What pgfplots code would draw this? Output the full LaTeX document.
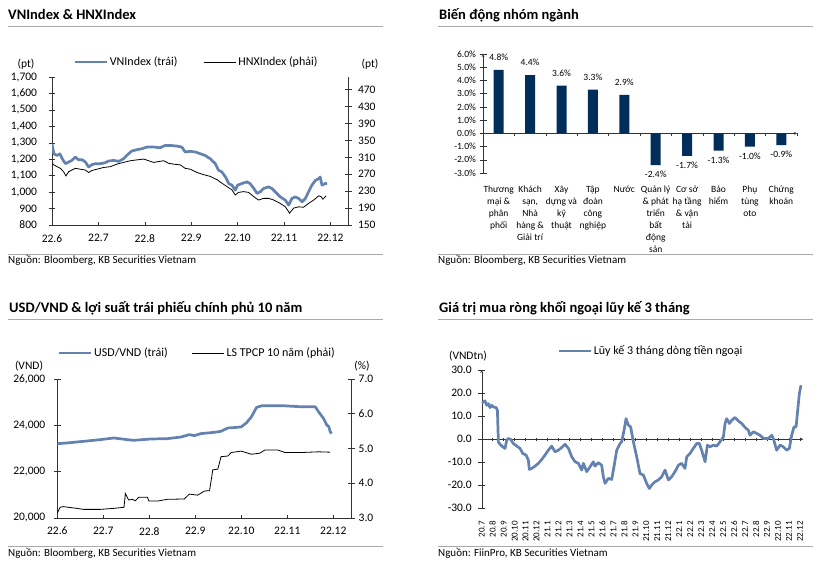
\documentclass[border=0pt]{standalone}
\usepackage{fontspec}
\setmainfont{Carlito}
\usepackage{pgfplots}
\pgfplotsset{compat=1.18}

\definecolor{lineblue}{RGB}{100,130,175}
\definecolor{barnavy}{RGB}{0,45,90}
\definecolor{rulegray}{RGB}{170,170,170}

\newcommand\tickf{\fontsize{11.5bp}{13bp}\selectfont}
\newcommand\legf{\fontsize{12bp}{14bp}\selectfont}
\newcommand\srcf{\fontsize{11bp}{13bp}\selectfont}
\newcommand\ttlf{\fontsize{14.5bp}{17bp}\selectfont\bfseries}
\newcommand\barf{\fontsize{9.5bp}{12bp}\selectfont}
\newcommand\xrotf{\fontsize{9bp}{11bp}\selectfont}

\pgfplotsset{
  kb/.style={
    scale only axis,
    anchor=south west,
    axis line style={-, black!80},
    tick style={black!80, thin},
    ytick align=center,
    xtick align=inside,
    major tick length=7bp,
    xtick style={/pgfplots/major tick length=3bp},
    tick label style={font=\tickf},
    /pgf/number format/assume math mode=true,
    legend style={draw=none, fill=none, inner sep=0pt, font=\legf, legend cell align=left},
    legend image code/.code={\draw[##1] (0bp,0bp) -- (32bp,0bp);},
  },
  onedec/.style={/pgf/number format/fixed, /pgf/number format/fixed zerofill, /pgf/number format/precision=1},
  thousands/.style={/pgf/number format/1000 sep={,}},
}

\begin{document}
\begin{tikzpicture}
\useasboundingbox (0,0) rectangle (834bp,-563bp);

% ---------- titles, rules, sources ----------
\node[anchor=base west, inner sep=0, font=\ttlf] at (8bp,-19bp) {VNIndex \& HNXIndex};
\node[anchor=base west, inner sep=0, font=\ttlf] at (439bp,-19bp) {Biến động nhóm ngành};
\node[anchor=base west, inner sep=0, font=\ttlf] at (9bp,-312bp) {USD/VND \& lợi suất trái phiếu chính phủ 10 năm};
\node[anchor=base west, inner sep=0, font=\ttlf] at (439bp,-312bp) {Giá trị mua ròng khối ngoại lũy kế 3 tháng};
\draw[rulegray, line width=1bp] (8bp,-26bp) -- (383bp,-26bp);
\draw[rulegray, line width=1bp] (438bp,-26bp) -- (813bp,-26bp);
\draw[rulegray, line width=1bp] (8bp,-319bp) -- (383bp,-319bp);
\draw[rulegray, line width=1bp] (438bp,-319bp) -- (813bp,-319bp);
\draw[rulegray, line width=1bp] (8bp,-254bp) -- (383bp,-254bp);
\draw[rulegray, line width=1bp] (438bp,-254bp) -- (813bp,-254bp);
\draw[rulegray, line width=1bp] (8bp,-546bp) -- (383bp,-546bp);
\draw[rulegray, line width=1bp] (438bp,-546bp) -- (813bp,-546bp);
\node[anchor=base west, inner sep=0, font=\srcf] at (8bp,-263bp) {Nguồn: Bloomberg, KB Securities Vietnam};
\node[anchor=base west, inner sep=0, font=\srcf] at (438bp,-263bp) {Nguồn: Bloomberg, KB Securities Vietnam};
\node[anchor=base west, inner sep=0, font=\srcf] at (8bp,-556bp) {Nguồn: Bloomberg, KB Securities Vietnam};
\node[anchor=base west, inner sep=0, font=\srcf] at (438bp,-556bp) {Nguồn: FiinPro, KB Securities Vietnam};

% unit labels
\node[font=\tickf] at (26bp,-64bp) {(pt)};
\node[font=\tickf] at (370bp,-64bp) {(pt)};
\node[font=\tickf] at (29bp,-366bp) {(VND)};
\node[font=\tickf] at (362bp,-366bp) {(\%)};
\node[font=\tickf] at (468bp,-356bp) {(VNDtn)};

% ---------- panel 1: VNIndex & HNXIndex ----------
\begin{axis}[kb, at={(52bp,-225bp)}, width=296bp, height=148bp,
  xmin=0, xmax=6.38, ymin=800, ymax=1700, ytick={800,900,...,1700},
  axis y line*=left, axis x line*=bottom,
  xtick={0,...,6}, xticklabels={22.6,22.7,22.8,22.9,22.10,22.11,22.12},
  yticklabel style={thousands},
  every y tick label/.append style={xshift=-8bp},
  xticklabel style={yshift=-6bp},
  legend columns=2,
  legend style={at={(axis description cs:0.071,1.101)}, anchor=west},
]
\addplot[lineblue, line width=2.7bp, line join=round] coordinates {
(0.00,1294) (0.04,1233) (0.11,1223) (0.17,1233) (0.22,1203) (0.29,1173) (0.36,1183)
(0.43,1193) (0.50,1213) (0.57,1197) (0.65,1197) (0.72,1183) (0.79,1153) (0.86,1167)
(0.93,1173) (1.04,1173) (1.15,1179) (1.22,1189) (1.33,1193) (1.44,1187) (1.54,1203)
(1.65,1233) (1.72,1250) (1.83,1258) (1.94,1264) (2.05,1274) (2.19,1274) (2.33,1270)
(2.44,1284) (2.55,1284) (2.69,1280) (2.80,1274) (2.87,1244) (2.98,1248) (3.09,1244)
(3.20,1233) (3.30,1223) (3.41,1203) (3.52,1173) (3.59,1133) (3.66,1123) (3.74,1092)
(3.81,1052) (3.88,1042) (3.95,1012) (4.00,1042) (4.09,1052) (4.20,1062) (4.27,1052)
(4.35,1022) (4.42,992) (4.49,1002) (4.56,1022) (4.67,1032) (4.74,1022) (4.81,1002)
(4.92,971) (5.03,951) (5.10,921) (5.17,961) (5.24,971) (5.32,961) (5.39,941)
(5.46,961) (5.53,1002) (5.60,1042) (5.68,1072) (5.75,1082) (5.78,1092) (5.82,1042)
(5.89,1052) (5.93,1052)
};
\addlegendentry{VNIndex (trái)\rule{24bp}{0pt}}
\addlegendimage{black, line width=0.8bp}
\addlegendentry{HNXIndex (phải)}
\end{axis}
\begin{axis}[kb, at={(52bp,-225bp)}, width=296bp, height=148bp,
  xmin=0, xmax=6.38, ymin=150, ymax=500, ytick={150,190,...,470},
  axis y line*=right, axis x line=none, xtick=\empty,
  every y tick label/.append style={xshift=3bp},
]
\addplot[black, line width=0.8bp] coordinates {
(0.00,296) (0.04,292) (0.11,288) (0.18,284) (0.25,276) (0.30,266) (0.36,276)
(0.43,280) (0.50,284) (0.61,282) (0.72,280) (0.79,274) (0.86,279) (0.97,282)
(1.11,286) (1.26,288) (1.40,294) (1.54,298) (1.69,302) (1.83,304) (1.98,306)
(2.08,302) (2.19,298) (2.30,300) (2.41,302) (2.51,296) (2.62,294) (2.77,292)
(2.87,284) (2.98,282) (3.13,274) (3.27,269) (3.41,265) (3.56,257) (3.66,249)
(3.77,241) (3.88,233) (3.95,221) (4.02,227) (4.13,229) (4.24,227) (4.35,217)
(4.45,209) (4.56,213) (4.67,213) (4.78,209) (4.92,201) (5.03,193) (5.12,178)
(5.21,190) (5.32,193) (5.42,192) (5.53,201) (5.64,209) (5.75,219) (5.80,217)
(5.84,211) (5.91,219)
};
\end{axis}

% ---------- panel 2: sector bars ----------
\begin{axis}[kb, at={(483bp,-173bp)}, width=314bp, height=119bp, clip=false,
  xmin=0.5, xmax=10.5, ymin=-3, ymax=6, ytick={-3,...,6},
  axis y line=left, axis x line=middle,
  hide obscured x ticks=false, hide obscured y ticks=false,
  tick label style={font=\barf},
  yticklabel={\pgfmathprintnumber[fixed,fixed zerofill,precision=1]{\tick}\%},
  xtick={1,...,10},
  xtick style={/pgfplots/major tick length=0bp},
  minor xtick={0.5,1.5,...,10.5}, minor tick length=3bp,
  xticklabel style={align=center, anchor=north, yshift=-42bp},
  xticklabels={{Thương\\mại \&\\phân\\phối},{Khách\\sạn,\\Nhà\\hàng \&\\Giải trí},{Xây\\dựng và\\kỹ\\thuật},{Tập\\đoàn\\công\\nghiệp},{Nước},{Quản lý\\\& phát\\triển\\bất\\động\\sản},{Cơ sở\\hạ tầng\\\& vận\\tải},{Bảo\\hiểm},{Phụ\\tùng\\oto},{Chứng\\khoán}},
  ybar, bar width=10bp,
  nodes near coords={\rule[-6bp]{0pt}{15bp}\pgfmathprintnumber[fixed,fixed zerofill,precision=1]{\pgfplotspointmeta}\%},
  nodes near coords align=vertical,
  every node near coord/.append style={font=\barf, text=black},
]
\addplot[fill=barnavy, draw=none] coordinates {
(1,4.8) (2,4.4) (3,3.6) (4,3.3) (5,2.9) (6,-2.4) (7,-1.7) (8,-1.3) (9,-1.0) (10,-0.9)
};
\end{axis}

% ---------- panel 3: USD/VND & 10Y yield ----------
\begin{axis}[kb, at={(57.3bp,-517.7bp)}, width=294.4bp, height=138.7bp,
  xmin=0, xmax=6.4, ymin=20000, ymax=26000, ytick={20000,22000,24000,26000},
  axis y line*=left, axis x line*=bottom,
  xtick={0,...,6}, xticklabels={22.6,22.7,22.8,22.9,22.10,22.11,22.12},
  yticklabel style={thousands},
  every y tick label/.append style={xshift=-5bp},
  xticklabel style={yshift=-6bp},
  scaled y ticks=false,
  legend columns=2,
  legend style={at={(axis description cs:0,1.1875)}, anchor=west},
]
\addplot[lineblue, line width=2.7bp, line join=round] coordinates {
(0,23202) (0.20,23231) (0.57,23304) (0.93,23376) (1.23,23449) (1.52,23376)
(1.66,23347) (2.03,23405) (2.39,23420) (2.69,23492) (2.87,23594) (2.98,23550)
(3.12,23637) (3.42,23695) (3.56,23739) (3.71,23884) (3.85,23899) (4.00,23928)
(4.11,24101) (4.22,24362) (4.33,24768) (4.44,24840) (4.95,24840) (5.31,24797)
(5.61,24797) (5.68,24580) (5.79,24290) (5.86,24000) (5.90,23956) (5.93,23739)
(5.96,23637)
};
\addlegendentry{USD/VND (trái)\rule{22bp}{0pt}}
\addlegendimage{black, line width=0.8bp}
\addlegendentry{LS TPCP 10 năm (phải)}
\end{axis}
\begin{axis}[kb, at={(57.3bp,-517.7bp)}, width=294.4bp, height=138.7bp,
  xmin=0, xmax=6.4, ymin=3, ymax=7, ytick={3,...,7},
  axis y line*=right, axis x line=none, xtick=\empty,
  yticklabel style={onedec},
]
\addplot[black, line width=0.8bp] coordinates {
(0,3.13) (0.06,3.30) (0.13,3.32) (0.42,3.27) (0.57,3.24) (0.93,3.24) (1.23,3.27)
(1.45,3.30) (1.48,3.70) (1.55,3.51) (1.63,3.53) (1.70,3.49) (1.77,3.59) (1.96,3.59)
(1.99,3.48) (2.18,3.48) (2.39,3.53) (2.76,3.54) (2.87,3.68) (3.05,3.65) (3.20,3.77)
(3.31,3.78) (3.38,4.38) (3.49,4.40) (3.56,4.76) (3.71,4.78) (3.78,4.88) (4.00,4.92)
(4.22,4.83) (4.40,4.86) (4.51,4.95) (4.80,4.95) (4.95,4.88) (5.31,4.88) (5.68,4.90)
(5.93,4.89)
};
\end{axis}

% ---------- panel 4: foreign net buying, 3M cumulative ----------
\begin{axis}[kb, at={(481.7bp,-508.3bp)}, width=321.6bp, height=138.3bp,
  xmin=0, xmax=29.3, ymin=-30, ymax=30, ytick={-30,-20,...,30},
  axis y line=left, axis x line=middle,
  hide obscured x ticks=false, hide obscured y ticks=false,
  yticklabel style={onedec},
  every y tick label/.append style={xshift=-3bp},
  xtick={0,...,29},
  xticklabels={20.7,20.8,20.9,20.10,20.11,20.12,21.1,21.2,21.3,21.4,21.5,21.6,21.7,21.8,21.9,21.10,21.11,21.12,22.1,22.2,22.3,22.4,22.5,22.6,22.7,22.8,22.9,22.10,22.11,22.12},
  xticklabel style={font=\xrotf, yshift=-75bp, rotate=90, anchor=east},
  legend style={at={(axis description cs:0.234,1.137)}, anchor=west},
]
\addplot[lineblue, line width=2.7bp, line join=round] coordinates {
(0.00,15.4) (0.15,16.2) (0.30,16.6) (0.46,14.7) (0.61,15.4) (0.76,13.7) (0.91,14.7)
(1.06,14.0) (1.31,13.7) (1.43,12.6) (1.52,-1.2) (1.67,-2.2) (1.91,-3.3) (2.13,-4.0)
(2.28,-0.4) (2.43,0.3) (2.64,-0.1) (2.88,-1.9) (3.19,-3.0) (3.49,-4.0) (3.74,-6.2)
(4.04,-6.9) (4.25,-9.1) (4.34,-13.1) (4.56,-12.7) (4.86,-11.7) (5.16,-10.5) (5.47,-8.8)
(5.77,-6.9) (6.07,-4.8) (6.38,-3.0) (6.68,-5.5) (6.98,-4.8) (7.29,-3.6) (7.59,-2.2)
(7.90,-4.0) (8.20,-7.6) (8.50,-9.8) (8.81,-10.5) (9.11,-13.4) (9.26,-10.5) (9.57,-14.1)
(9.87,-12.0) (10.17,-9.8) (10.32,-11.7) (10.63,-10.2) (10.93,-11.3) (11.08,-16.3)
(11.24,-19.2) (11.54,-17.0) (11.84,-17.5) (12.00,-13.4) (12.30,-4.8) (12.60,-1.9)
(12.75,-1.2) (12.97,3.9) (13.15,8.9) (13.36,6.1) (13.57,5.3) (13.82,-1.2) (14.12,-7.6)
(14.42,-14.9) (14.73,-15.6) (15.03,-19.2) (15.27,-21.4) (15.49,-19.9) (15.79,-18.5)
(16.09,-17.7) (16.40,-16.3) (16.70,-13.4) (17.01,-17.7) (17.31,-16.3) (17.61,-14.1)
(17.92,-11.3) (18.22,-10.5) (18.52,-12.7) (18.68,-7.6) (18.98,-6.2) (19.28,-4.0)
(19.59,-1.9) (19.83,-1.9) (20.04,-4.8) (20.35,-9.8) (20.56,-2.6) (20.80,-3.3)
(21.11,-2.6) (21.41,-3.0) (21.71,-1.2) (22.02,1.0) (22.17,6.8) (22.32,8.9) (22.56,6.8)
(22.78,8.2) (23.08,9.4) (23.38,7.9) (23.69,6.8) (23.99,5.1) (24.29,3.9) (24.44,1.7)
(24.75,3.2) (25.05,2.5) (25.36,1.7) (25.66,0.3) (26.12,0.3) (26.42,1.7) (26.57,0.3)
(26.87,-4.8) (27.18,-2.6) (27.48,-3.3) (27.79,-4.8) (28.03,-4.0) (28.24,1.7)
(28.45,5.3) (28.64,5.3) (28.79,12.6) (28.94,19.8) (29.09,23.4)
};
\addlegendentry{Lũy kế 3 tháng dòng tiền ngoại}
\end{axis}
\end{tikzpicture}
\end{document}
